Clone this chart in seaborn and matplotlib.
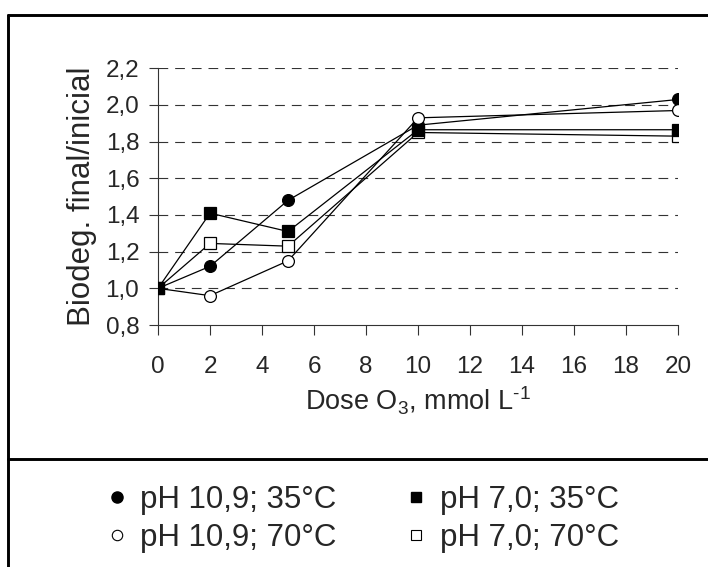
import matplotlib
matplotlib.use("Agg")
import matplotlib.pyplot as plt
from matplotlib.lines import Line2D
from matplotlib.ticker import FuncFormatter
import seaborn as sns

# data
dose = [0, 2, 5, 10, 20]
ph109_35 = [1.00, 1.12, 1.48, 1.89, 2.03]
ph109_70 = [1.00, 0.96, 1.15, 1.93, 1.97]
ph70_70 = [1.00, 1.245, 1.23, 1.85, 1.83]
ph70_35 = [1.00, 1.41, 1.31, 1.865, 1.865]

labels = ["pH 10,9; 35°C", "pH 10,9; 70°C", "pH 7,0; 35°C", "pH 7,0; 70°C"]
x_ticks = [0, 2, 4, 6, 8, 10, 12, 14, 16, 18, 20]
y_ticks = [0.8, 1.0, 1.2, 1.4, 1.6, 1.8, 2.0, 2.2]

sns.set_style("white")
plt.rcParams["font.family"] = ["Liberation Sans", "DejaVu Sans"]
plt.rcParams["mathtext.fontset"] = "custom"
plt.rcParams["mathtext.rm"] = "Liberation Sans"
plt.rcParams["mathtext.it"] = "Liberation Sans:italic"
plt.rcParams["lines.scale_dashes"] = False

fig = plt.figure(figsize=(7.08, 5.67), dpi=100)
ax = fig.add_axes([0.2232, 0.4268, 0.7345, 0.4527])

# series: (values, marker, facecolor, size)
series = [
    (ph109_35, "o", "black", 8.5),
    (ph109_70, "o", "white", 8.5),
    (ph70_70, "s", "white", 8.2),
    (ph70_35, "s", "black", 8.2),
]
for vals, mk, fc, ms in series:
    sns.lineplot(x=dose, y=vals, ax=ax, color="black", lw=0.9,
                 marker=mk, markersize=ms, markerfacecolor=fc,
                 markeredgecolor="black", markeredgewidth=0.9, zorder=3)

ax.set_xlim(0, 20)
ax.set_ylim(0.8, 2.2)
ax.set_xticks(x_ticks)
ax.set_yticks(y_ticks)
ax.yaxis.set_major_formatter(FuncFormatter(lambda v, p: f"{v:.1f}".replace(".", ",")))
ax.tick_params(axis="y", direction="out", length=6.5, width=0.8, color="#333333",
               labelsize=17.5, pad=7, left=True)
ax.tick_params(axis="x", direction="out", length=7, width=0.8, color="#333333",
               labelsize=17.5, pad=15, bottom=True)

for yv in y_ticks[1:]:
    ax.axhline(yv, color="#333333", lw=0.8, linestyle=(0, (7, 5)), zorder=1)

sns.despine(ax=ax)
for side in ["left", "bottom"]:
    ax.spines[side].set_color("#333333")
    ax.spines[side].set_linewidth(0.8)

ax.set_xlabel("Dose O$_3$, mmol L$^{‐1}$", fontsize=19.5, labelpad=5)
ax.set_ylabel("Biodeg. final/inicial", fontsize=22.5, labelpad=6)

# outer frame and separator, cropped like the original figure
fig.add_artist(Line2D([0.0113, 0.0113], [0.0, 0.9735], color="black", lw=2.1))
fig.add_artist(Line2D([0.0113, 1.0], [0.9735, 0.9735], color="black", lw=2.1))
fig.add_artist(Line2D([0.0113, 1.0], [0.1905, 0.1905], color="black", lw=2.1))

handles = [
    Line2D([], [], ls="none", marker="o", ms=8, mfc="black", mec="black"),
    Line2D([], [], ls="none", marker="o", ms=7.5, mfc="white", mec="black", mew=0.8),
    Line2D([], [], ls="none", marker="s", ms=7.5, mfc="black", mec="black"),
    Line2D([], [], ls="none", marker="s", ms=7.5, mfc="white", mec="black", mew=0.8),
]
fig.legend(handles, labels, ncol=2, loc="center", bbox_to_anchor=(0.5115, 0.0847),
           frameon=False, fontsize=22.5, handlelength=0.7, handletextpad=0.4,
           columnspacing=2.2, labelspacing=0.25)

fig.savefig("out.png", dpi=100)
